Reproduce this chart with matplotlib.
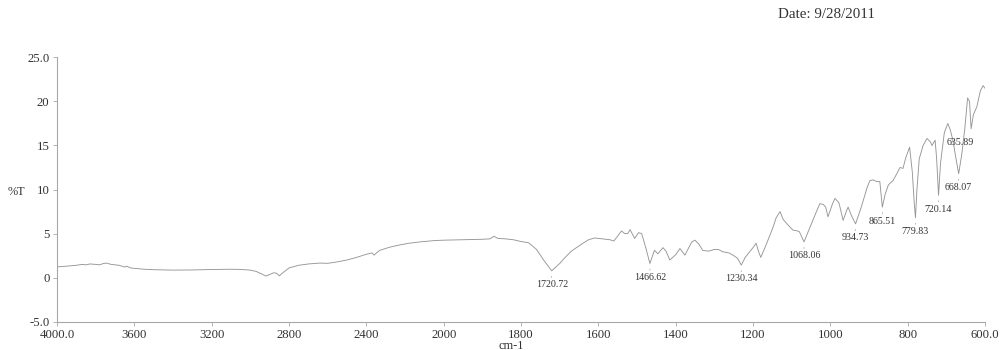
import numpy as np
import matplotlib
matplotlib.use("Agg")
import matplotlib.pyplot as plt
from matplotlib.ticker import FixedLocator, FixedFormatter

# ---- spectrum data (wavenumber in cm-1, transmittance in %T) ----
wavenumber = [
    4000, 3950, 3900, 3870, 3850, 3830, 3800, 3780, 3760, 3745, 3720, 3700,
    3680, 3665, 3650, 3640, 3620, 3600, 3550, 3500, 3400, 3300, 3200, 3100,
    3050, 3000, 2970, 2940, 2920, 2900, 2880, 2865, 2850, 2835, 2800, 2750,
    2700, 2640, 2600, 2560, 2500, 2450, 2400, 2370, 2360, 2345, 2330, 2280,
    2230, 2180, 2120, 2050, 2000, 1950, 1900, 1880, 1870, 1860, 1840, 1820,
    1800, 1780, 1760, 1740, 1720.72, 1700, 1690, 1670, 1660, 1650, 1640, 1625,
    1610, 1590, 1570, 1560, 1552, 1540, 1532, 1524, 1518, 1506, 1496, 1488,
    1478, 1466.62, 1455, 1446, 1433, 1425, 1415, 1400, 1389, 1376, 1365, 1358,
    1350, 1340, 1330, 1315, 1300, 1290, 1278, 1262, 1250, 1240, 1230.34, 1220,
    1212, 1200, 1192, 1186, 1180, 1170, 1150, 1140, 1130, 1122, 1110, 1097,
    1085, 1080, 1068.06, 1050, 1035, 1027, 1018, 1012, 1006, 995, 988, 978,
    975, 967, 958, 954, 945, 934.73, 920, 905, 898, 890, 880, 872,
    865.51, 858, 850, 846, 838, 828, 820, 812, 805, 795, 788, 783,
    779.83, 776, 770, 760, 750, 741, 737, 729, 725, 720.14, 715, 705,
    696, 690, 683, 675, 668.07, 660, 652, 645, 640, 635.89, 630, 621,
    612, 605, 600,
]
transmittance = [
    1.22, 1.30, 1.40, 1.50, 1.45, 1.55, 1.50, 1.45, 1.60, 1.65, 1.50, 1.45,
    1.40, 1.30, 1.20, 1.30, 1.10, 1.05, 0.95, 0.90, 0.85, 0.87, 0.92, 0.95,
    0.93, 0.85, 0.70, 0.40, 0.18, 0.35, 0.55, 0.50, 0.20, 0.50, 1.10, 1.40,
    1.55, 1.65, 1.62, 1.75, 2.00, 2.30, 2.65, 2.80, 2.55, 2.85, 3.10, 3.45,
    3.70, 3.90, 4.06, 4.20, 4.25, 4.30, 4.35, 4.40, 4.70, 4.45, 4.40, 4.30,
    4.10, 3.95, 3.20, 1.90, 0.77, 1.60, 2.10, 3.00, 3.30, 3.60, 3.90, 4.30,
    4.50, 4.40, 4.30, 4.15, 4.60, 5.30, 5.00, 5.00, 5.45, 4.45, 5.10, 5.00,
    3.50, 1.60, 3.10, 2.70, 3.40, 3.00, 2.00, 2.60, 3.30, 2.55, 3.50, 4.06,
    4.25, 3.80, 3.10, 3.00, 3.20, 3.20, 2.93, 2.80, 2.50, 2.20, 1.42, 2.30,
    2.75, 3.40, 3.90, 3.00, 2.30, 3.30, 5.50, 6.80, 7.50, 6.60, 6.00, 5.40,
    5.30, 5.20, 4.06, 6.00, 7.60, 8.40, 8.30, 8.00, 6.90, 8.30, 9.00, 8.50,
    8.00, 6.50, 7.60, 8.00, 7.00, 6.10, 8.00, 10.20, 11.00, 11.10, 10.90, 10.90,
    8.00, 9.50, 10.50, 10.70, 11.00, 11.80, 12.50, 12.40, 13.60, 14.80, 12.00, 8.50,
    6.80, 10.00, 13.50, 15.00, 15.80, 15.40, 15.00, 15.60, 13.50, 9.35, 13.00, 16.50,
    17.50, 16.80, 15.60, 13.50, 11.80, 14.00, 17.00, 20.40, 20.00, 16.90, 18.50, 19.40,
    21.20, 21.80, 21.50,
]

# labelled absorption bands
peak_positions = [1720.72, 1466.62, 1230.34, 1068.06, 934.73, 865.51,
                  779.83, 720.14, 668.07, 635.89]
peak_labels = ["1720.72", "1466.62", "1230.34", "1068.06", "934.73", "865.51",
               "779.83", "720.14", "668.07", "635.89"]

x_ticks = [4000, 3600, 3200, 2800, 2400, 2000, 1800, 1600, 1400, 1200, 1000, 800, 600]
x_tick_labels = ["4000.0", "3600", "3200", "2800", "2400", "2000", "1800", "1600",
                 "1400", "1200", "1000", "800", "600.0"]
y_ticks = [-5, 0, 5, 10, 15, 20, 25]
y_tick_labels = ["-5.0", "0", "5", "10", "15", "20", "25.0"]

date_text = "Date: 9/28/2011"

# ---- styling ----
plt.rcParams["font.family"] = ["Liberation Serif", "DejaVu Serif"]
text_color = "#333333"
line_color = "#969696"
axis_color = "#a8a8a8"


# wavenumber axis: above 2000 cm-1 the scale is compressed by a factor of two
def _fwd(x):
    x = np.asarray(x, dtype=float)
    return np.where(x > 2000, 2000 + (x - 2000) / 2.0, x)


def _inv(u):
    u = np.asarray(u, dtype=float)
    return np.where(u > 2000, 2000 + (u - 2000) * 2.0, u)


fig = plt.figure(figsize=(10.01, 3.5), dpi=100)
ax = fig.add_axes([0.057, 0.081, 0.927, 0.755])
ax.set_xscale("function", functions=(_fwd, _inv))
ax.set_xlim(4000, 600)
ax.set_ylim(-5, 25)

ax.plot(wavenumber, transmittance, color=line_color, lw=0.65)

for spine in ("top", "right"):
    ax.spines[spine].set_visible(False)
for spine in ("left", "bottom"):
    ax.spines[spine].set_color(axis_color)
    ax.spines[spine].set_linewidth(0.8)

ax.xaxis.set_major_locator(FixedLocator(x_ticks))
ax.xaxis.set_major_formatter(FixedFormatter(x_tick_labels))
ax.xaxis.set_minor_locator(FixedLocator([]))
ax.yaxis.set_major_locator(FixedLocator(y_ticks))
ax.yaxis.set_major_formatter(FixedFormatter(y_tick_labels))
ax.tick_params(axis="both", which="major", length=3, width=0.6, color=axis_color,
               labelcolor=text_color, labelsize=9.2, pad=2.5)

ax.text(-0.053, 0.49, "%T", transform=ax.transAxes, fontsize=8.8,
        color=text_color, ha="left", va="center")
ax.text(0.490, -0.068, "cm-1", transform=ax.transAxes, fontsize=8.8,
        color=text_color, ha="center", va="top")
fig.text(0.826, 0.958, date_text, fontsize=10.8, color=text_color,
         ha="center", va="center")

# band labels with a short drop line under each minimum
lookup = dict(zip(wavenumber, transmittance))
for pos, lab in zip(peak_positions, peak_labels):
    depth = lookup[pos]
    beside = lab == "635.89"
    offset = (-8, -10) if beside else (0, -10)
    ax.annotate(lab, xy=(pos, depth), xytext=offset, textcoords="offset points",
                ha="center", va="center", fontsize=7.2, color=text_color,
                arrowprops=None if beside else dict(arrowstyle="-", color=line_color,
                                                    lw=0.5, shrinkA=0, shrinkB=4))

fig.savefig("out.png", dpi=100, facecolor="white")
